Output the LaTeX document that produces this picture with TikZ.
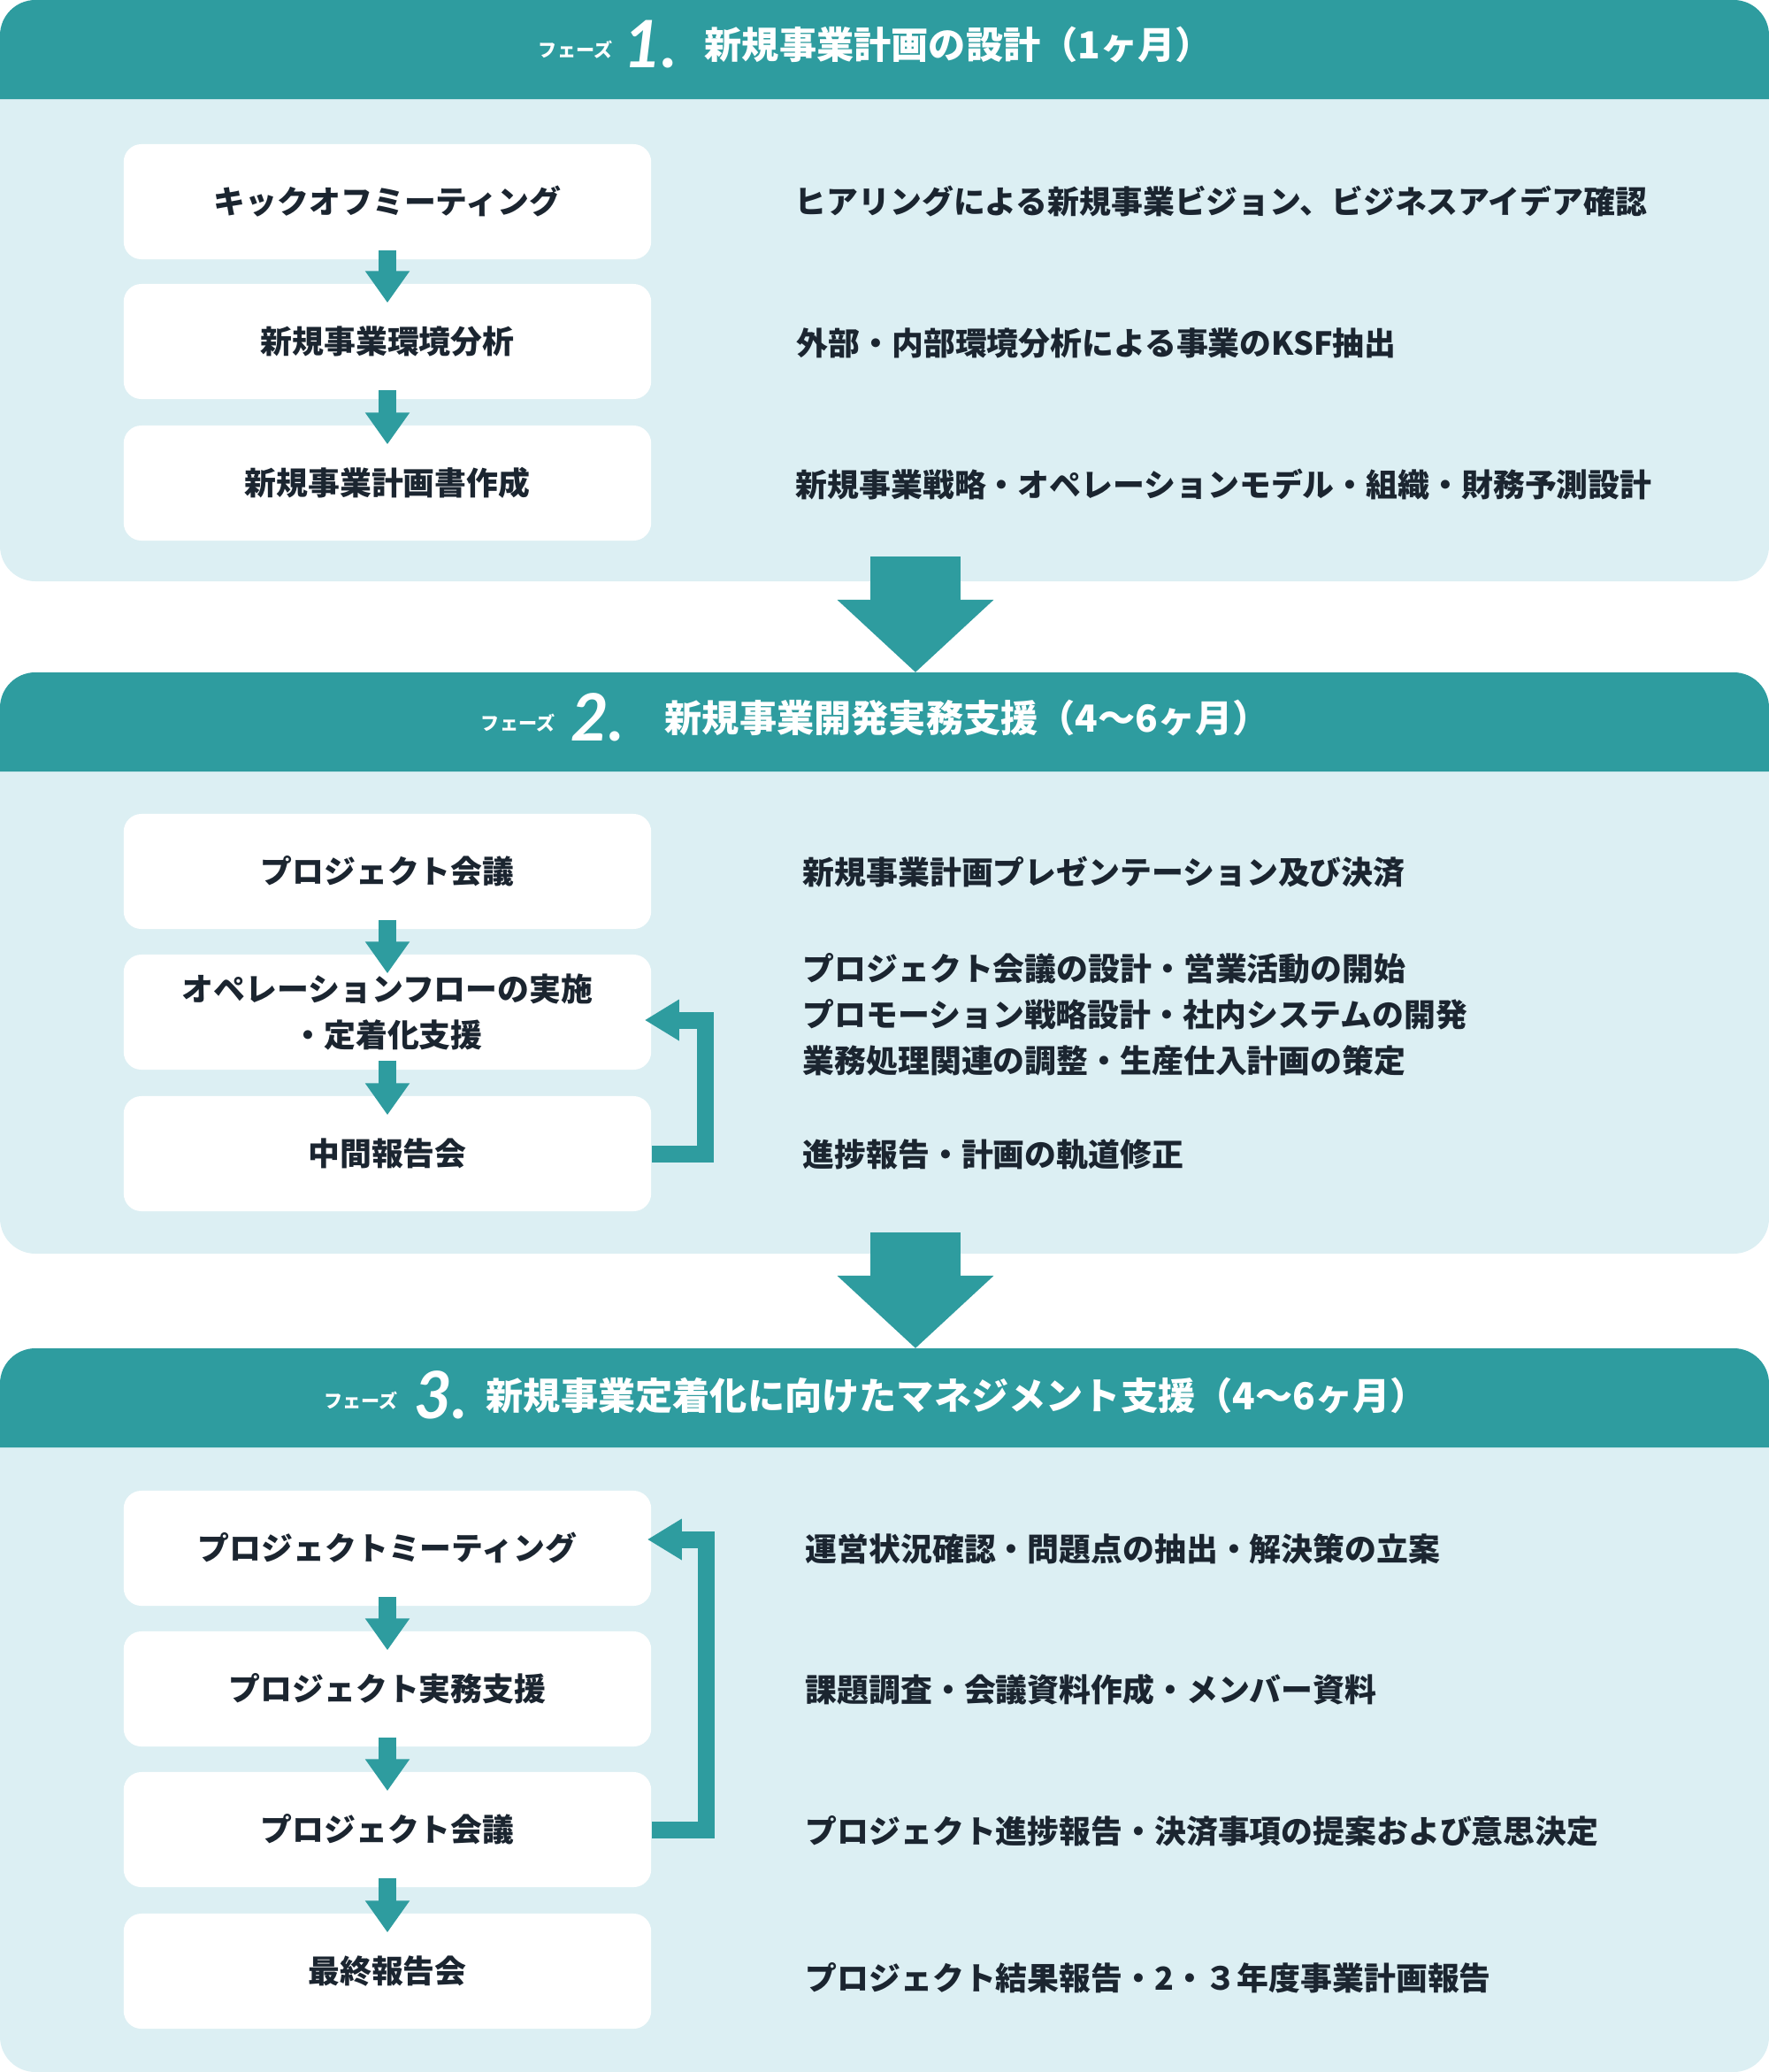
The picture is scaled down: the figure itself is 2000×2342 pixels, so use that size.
\documentclass[tikz,border=0pt]{standalone}
\usepackage{fontspec}
\setmainfont{Noto Sans CJK JP}
\newfontfamily\numfont{Lato}
\usetikzlibrary{arrows.meta}

\definecolor{phaseteal}{HTML}{2E9C9F}
\definecolor{panelblue}{HTML}{DCEFF3}
\definecolor{inkdark}{HTML}{1B2530}

\newcommand{\bodyfont}{\bfseries\fontsize{10.2}{14.8}\selectfont}

\tikzset{
    stepbox/.style={fill=white, rounded corners=0.2cm, minimum width=5.96cm,
        minimum height=1.30cm, align=center, text=inkdark, font=\bodyfont, inner sep=0pt},
    notetext/.style={anchor=west, align=left, text=inkdark, font=\bodyfont,
        inner sep=0pt, text height=0.8em, text depth=0.05em},
    phasetitle/.style={anchor=base, text=white, inner sep=0pt, font=\bfseries},
    flowarrow/.style={draw=phaseteal, line width=0.19cm, -{Triangle[width=0.48cm,length=0.36cm]}},
    looparrow/.style={draw=phaseteal, line width=0.19cm, -{Triangle[width=0.44cm,length=0.39cm]}},
    bigarrow/.style={draw=phaseteal, line width=1.02cm, -{Triangle[width=1.72cm,length=0.82cm]}},
}

\begin{document}
\begin{tikzpicture}[x=0.01cm, y=-0.01cm]
    \useasboundingbox (0,0) rectangle (2000,2342);

    % フェーズ1
    \fill[panelblue, rounded corners=0.4cm] (0,0) rectangle (2000,657);
    \fill[phaseteal] (0,112) [rounded corners=0.4cm] -- (0,0) -- (2000,0) [sharp corners] -- (2000,112) -- cycle;
    \node[phasetitle] (t1) at (990,77) {\raisebox{0.12cm}{\fontsize{6}{6}\selectfont フェーズ}\hspace{0.13cm}{\numfont\fontsize{21}{21}\selectfont\bfseries\itshape 1.}\hspace{0.31cm}\raisebox{0.1cm}{\fontsize{12}{12}\selectfont 新規事業計画の設計（1ヶ月）}};
    \foreach \n/\y/\t in {a1/228/キックオフミーティング, a2/386/新規事業環境分析, a3/546/新規事業計画書作成}
        \node[stepbox] (\n) at (438,\y) {\t};
    \foreach \a/\b in {a1/a2, a2/a3}
        \draw[flowarrow] ([yshift=0.11cm]\a.south) -- ([yshift=-0.22cm]\b.north);
    \node[notetext] (n11) at (898,228) {ヒアリングによる新規事業ビジョン、ビジネスアイデア確認};
    \node[notetext] (n12) at (900,388) {外部・内部環境分析による事業のKSF抽出};
    \node[notetext] (n13) at (899,548) {新規事業戦略・オペレーションモデル・組織・財務予測設計};

    % フェーズ2
    \fill[panelblue, rounded corners=0.4cm] (0,760) rectangle (2000,1417);
    \fill[phaseteal] (0,872) [rounded corners=0.4cm] -- (0,760) -- (2000,760) [sharp corners] -- (2000,872) -- cycle;
    \node[phasetitle] (t2) at (990,837) {\raisebox{0.12cm}{\fontsize{6}{6}\selectfont フェーズ}\hspace{0.18cm}{\numfont\fontsize{21}{21}\selectfont\bfseries\itshape 2.}\hspace{0.46cm}\raisebox{0.1cm}{\fontsize{12}{12}\selectfont 新規事業開発実務支援（4〜6ヶ月）}};
    \node[stepbox] (b1) at (438,985) {プロジェクト会議};
    \node[stepbox] (b2) at (438,1144) {オペレーションフローの実施\\・定着化支援};
    \node[stepbox] (b3) at (438,1304) {中間報告会};
    \foreach \a/\b in {b1/b2, b2/b3}
        \draw[flowarrow] ([yshift=0.11cm]\a.south) -- ([yshift=-0.22cm]\b.north);
    \draw[looparrow] (b3.east) -- ++(0.61cm,0) |- ([xshift=-0.08cm,yshift=-0.09cm]b2.east);
    \node[notetext] (n21) at (907,986) {新規事業計画プレゼンテーション及び決済};
    % 3行のテキスト（最終行の位置で置く）
    \node[notetext] (n22) at (907,1199) {プロジェクト会議の設計・営業活動の開始\\プロモーション戦略設計・社内システムの開発\\業務処理関連の調整・生産仕入計画の策定};
    \node[notetext] (n23) at (907,1305) {進捗報告・計画の軌道修正};

    % 大きい矢印
    \coordinate (g1) at (1035,629);
    \coordinate (g2) at (1035,760);
    \coordinate (g3) at (1035,1393);
    \coordinate (g4) at (1035,1524);
    \draw[bigarrow] (g1) -- (g2);

    % フェーズ3
    \fill[panelblue, rounded corners=0.4cm] (0,1524) rectangle (2000,2342);
    \fill[phaseteal] (0,1636) [rounded corners=0.4cm] -- (0,1524) -- (2000,1524) [sharp corners] -- (2000,1636) -- cycle;
    \draw[bigarrow] (g3) -- (g4);
    \node[phasetitle] (t3) at (990,1603) {\raisebox{0.12cm}{\fontsize{6}{6}\selectfont フェーズ}\hspace{0.19cm}{\numfont\fontsize{21}{21}\selectfont\bfseries\itshape 3.}\hspace{0.21cm}\raisebox{0.1cm}{\fontsize{12}{12}\selectfont 新規事業定着化に向けたマネジメント支援（4〜6ヶ月）}};
    \foreach \n/\y/\t in {c1/1750/プロジェクトミーティング, c2/1909/プロジェクト実務支援, c3/2068/プロジェクト会議, c4/2228/最終報告会}
        \node[stepbox] (\n) at (438,\y) {\t};
    \foreach \a/\b in {c1/c2, c2/c3, c3/c4}
        \draw[flowarrow] ([yshift=0.11cm]\a.south) -- ([yshift=-0.22cm]\b.north);
    \draw[looparrow] (c3.east) -- ++(0.62cm,0) |- ([xshift=-0.05cm,yshift=0.10cm]c1.east);
    \node[notetext] (n31) at (910,1751) {運営状況確認・問題点の抽出・解決策の立案};
    \node[notetext] (n32) at (910,1910) {課題調査・会議資料作成・メンバー資料};
    \node[notetext] (n33) at (910,2070) {プロジェクト進捗報告・決済事項の提案および意思決定};
    \node[notetext] (n34) at (910,2236) {プロジェクト結果報告・2・３年度事業計画報告};
\end{tikzpicture}
\end{document}
